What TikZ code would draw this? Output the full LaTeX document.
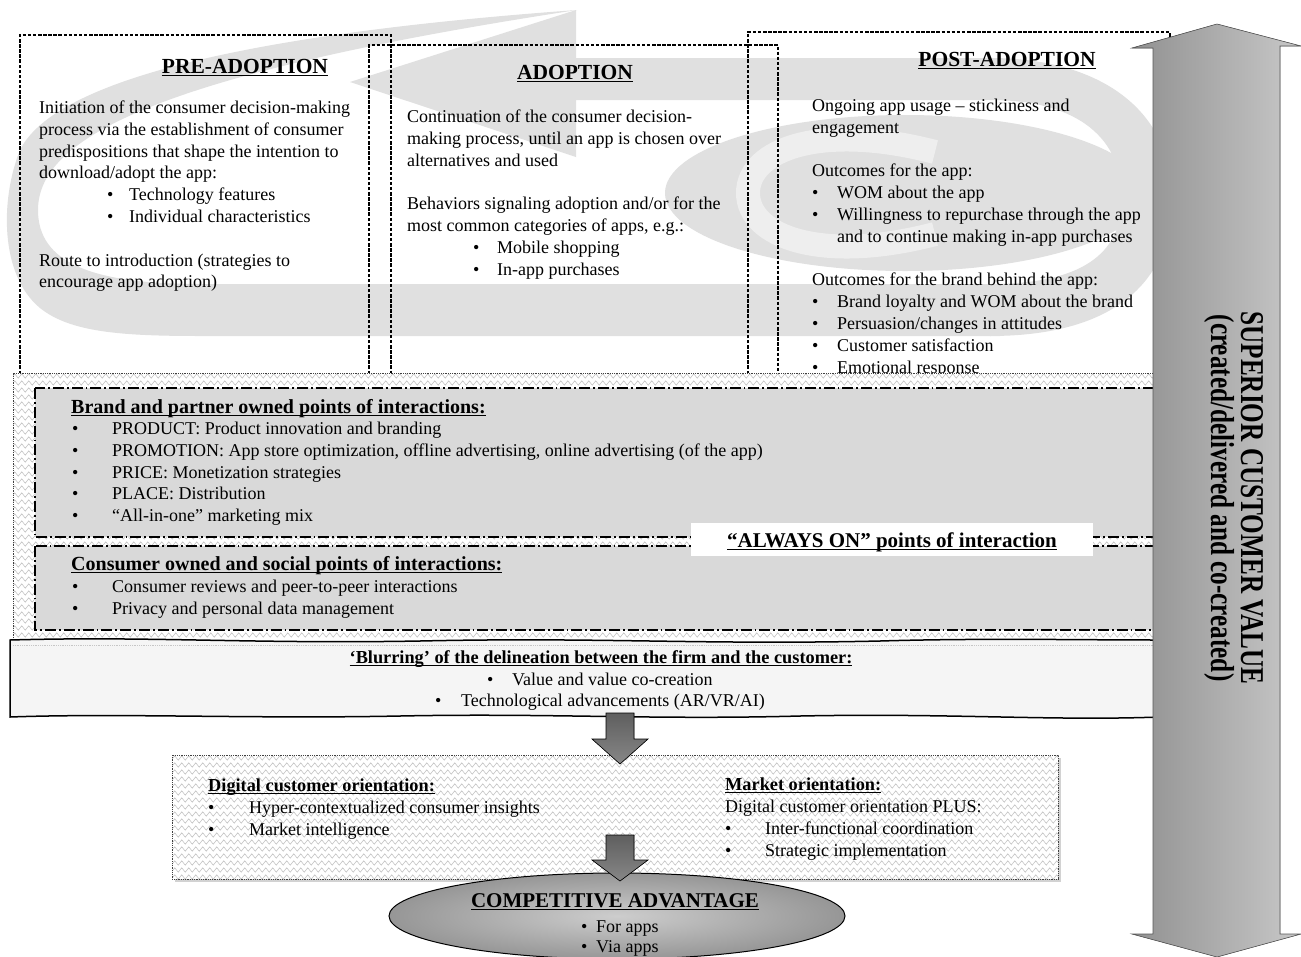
\documentclass[tikz,border=0pt]{standalone}
\usepackage{fontspec}
\setmainfont{Liberation Serif}
\usetikzlibrary{shapes.geometric,decorations.pathmorphing}
\definecolor{swirl}{RGB}{224,224,224}
\definecolor{swirllight}{RGB}{238,238,238}
\definecolor{boxgray}{RGB}{217,217,217}
\definecolor{zzc}{RGB}{188,188,188}
\definecolor{blurfill}{RGB}{245,245,245}
\definecolor{arrL}{RGB}{145,145,145}
\definecolor{arrR}{RGB}{200,200,200}
\newsavebox\ulb
\newcommand\ulx[1]{\sbox\ulb{#1}\rlap{\rule[-2.8pt]{\wd\ulb}{1.3pt}}\usebox\ulb}
\newcommand\bul[1]{\makebox[#1][l]{\textbullet}}
\begin{document}
\begin{tikzpicture}[x=1pt,y=-1pt,
  body/.style={inner sep=0pt, align=left, anchor=north west, font=\fontsize{18}{21.8}\selectfont},
  txtline/.style={inner sep=0pt, anchor=base west, font=\fontsize{18}{21.8}\selectfont},
  titletxt/.style={inner sep=0pt, anchor=base, font=\bfseries\fontsize{21.5}{26}\selectfont},
  headtxt/.style={inner sep=0pt, anchor=base west, font=\bfseries\fontsize{20}{24}\selectfont},
  sheadtxt/.style={inner sep=0pt, anchor=base west, font=\bfseries\fontsize{18.3}{22}\selectfont},
  dbox/.style={draw=black, line width=1.1pt, dash pattern=on 3.5pt off 1.6pt},
  ddbox/.style={draw=black, fill=boxgray, line width=1.4pt, dash pattern=on 11pt off 3pt on 1.8pt off 3pt},
  zz/.style={draw=zzc, line width=0.5pt, decorate, decoration={zigzag, segment length=7pt, amplitude=2.2pt}},
  dotb/.style={draw=black!75, line width=0.8pt, dash pattern=on 0.8pt off 1pt},
  darrow/.style={draw=black, line width=0.6pt, top color={rgb,255:red,95;green,95;blue,95}, bottom color={rgb,255:red,135;green,135;blue,135}},
  rottxt/.style={rotate=-90, anchor=base, inner sep=0pt, font=\bfseries\fontsize{25.2}{30}\selectfont}
]
\useasboundingbox (0,0) rectangle (1301,956);
\fill[white] (0,0) rectangle (1301,956);

% ---- background swirl ----
\fill[swirl] (577,10) .. controls (300,30) and (60,70) .. (20,150)
  .. controls (0,200) and (0,275) .. (40,308)
  .. controls (70,332) and (120,336) .. (200,336) -- (1000,336) -- (1000,284) -- (200,284)
  .. controls (90,284) and (38,262) .. (38,210)
  .. controls (38,140) and (150,75) .. (577,10) -- cycle;
\fill[swirl] (990,336) .. controls (1110,336) and (1172,285) .. (1172,198)
  .. controls (1172,110) and (1100,58) .. (990,58) -- (560,58) -- (560,100) -- (990,100)
  .. controls (1080,100) and (1122,140) .. (1122,198)
  .. controls (1122,255) and (1080,284) .. (990,284) -- cycle;
\fill[swirl] (350,82) -- (576,10) -- (576,157) -- cycle;
\fill[swirl] (905,193) ellipse [x radius=240pt, y radius=78pt];
\draw[swirllight, line width=24pt] (935,152) .. controls (820,122) and (748,150) .. (748,193)
  .. controls (748,236) and (820,264) .. (935,234);

% ---- stage boxes ----
\draw[dbox] (20,374) -- (20,35) -- (391,35) -- (391,374);
\draw[dbox] (369,374) -- (369,45) -- (778,45) -- (778,374);
\draw[dbox] (748,374) -- (748,32) -- (1170,32) -- (1170,374);

% ---- titles and texts of stages ----
\node[titletxt] (tpre) at (245,73) {\ulx{PRE-ADOPTION}};
\node[titletxt] (tad) at (575,79) {\ulx{ADOPTION}};
\node[titletxt] (tpost) at (1007,66) {\ulx{POST-ADOPTION}};

\node[body] (bpre) at (39,98) {\strut Initiation of the consumer decision-making\\
process via the establishment of consumer\\
predispositions that shape the intention to\\
download/adopt the app:\\
\hspace*{68pt}\bul{22pt}Technology features\\
\hspace*{68pt}\bul{22pt}Individual characteristics\\[21.8pt]
Route to introduction (strategies to\\
encourage app adoption)};

\node[body] (bad) at (407,107) {\strut Continuation of the consumer decision-\\
making process, until an app is chosen over\\
alternatives and used\\[21.8pt]
Behaviors signaling adoption and/or for the\\
most common categories of apps, e.g.:\\
\hspace*{66pt}\bul{24pt}Mobile shopping\\
\hspace*{66pt}\bul{24pt}In-app purchases};

\node[body] (bpost) at (812,96) {\strut Ongoing app usage – stickiness and\\
engagement\\[21.8pt]
Outcomes for the app:\\
\bul{25pt}WOM about the app\\
\bul{25pt}Willingness to repurchase through the app\\
\hspace*{25pt}and to continue making in-app purchases\\[21.8pt]
Outcomes for the brand behind the app:\\
\bul{25pt}Brand loyalty and WOM about the brand\\
\bul{25pt}Persuasion/changes in attitudes\\
\bul{25pt}Customer satisfaction\\
\bul{25pt}Emotional response};

% ---- always-on band ----
\fill[white] (13,373) rectangle (1153,638);
\begin{scope}
  \clip (13,373) rectangle (1153,638);
  \foreach \yy in {376,383,...,640} \draw[zz] (6,\yy) -- (1160,\yy);
\end{scope}
\draw[dotb] (13,638) -- (13,373) -- (1153,373);
\draw[ddbox] (35,388) rectangle (1160,537);
\draw[ddbox] (35,546) rectangle (1160,630);

\node[headtxt] (ha) at (71,413) {\ulx{Brand and partner owned points of interactions:}};
\node[body] (la) at (72,419) {\strut\bul{40pt}PRODUCT: Product innovation and branding\\
\bul{40pt}PROMOTION: App store optimization, offline advertising, online advertising (of the app)\\
\bul{40pt}PRICE: Monetization strategies\\
\bul{40pt}PLACE: Distribution\\
\bul{40pt}“All-in-one” marketing mix};

\node[headtxt] (hb) at (71,570) {\ulx{Consumer owned and social points of interactions:}};
\node[body] (lb) at (72,577) {\strut\bul{40pt}Consumer reviews and peer-to-peer interactions\\
\bul{40pt}Privacy and personal data management};

\node[fill=white, minimum width=402pt, minimum height=33pt, inner sep=0pt] (aonbox) at (892,539.5) {};
\node[titletxt, font=\bfseries\fontsize{21}{25}\selectfont] (aon) at (892,547) {\ulx{“ALWAYS ON” points of interaction}};

% ---- blurring box ----
\filldraw[fill=blurfill, draw=black, line width=1.5pt]
  (10,640) .. controls (150,636) and (250,644) .. (420,641)
  .. controls (600,637) and (700,645) .. (880,641)
  .. controls (980,638) and (1080,640) .. (1160,640) -- (1160,717)
  .. controls (1050,721) and (950,713) .. (800,716)
  .. controls (650,720) and (550,713) .. (400,716)
  .. controls (250,719) and (120,713) .. (10,717) -- cycle;
\draw[gray!45, line width=0.8pt, dash pattern=on 0.8pt off 1pt] (13,645) -- (1153,645);
\node[sheadtxt, anchor=base] (hblur) at (601,663) {\ulx{‘Blurring’ of the delineation between the firm and the customer:}};
\node[txtline] (bl1) at (487,685.5) {\bul{25pt}Value and value co-creation};
\node[txtline] (bl2) at (435,706.5) {\bul{26pt}Technological advancements (AR/VR/AI)};

% ---- orientation box ----
\fill[gray!35] (175,758) rectangle (1061,882);
\fill[white] (172,755) rectangle (1058,879);
\begin{scope}
  \clip (172,755) rectangle (1058,879);
  \foreach \yy in {758,765,...,880} \draw[zz] (166,\yy) -- (1064,\yy);
\end{scope}
\draw[dotb] (172,755) rectangle (1058,879);

% ---- down arrow 1 ----
\filldraw[darrow] (606,713) -- (634,713) -- (634,739) -- (648,739) -- (620,764) -- (592,739) -- (606,739) -- cycle;

\node[sheadtxt] (hdig) at (208,791) {\ulx{Digital customer orientation:}};
\node[body] (ldig) at (208,798) {\strut\bul{41pt}Hyper-contextualized consumer insights\\
\bul{41pt}Market intelligence};
\node[sheadtxt] (hmkt) at (725,790) {\ulx{Market orientation:}};
\node[body] (lmkt) at (725,797) {\strut Digital customer orientation PLUS:\\
\bul{40pt}Inter-functional coordination\\
\bul{40pt}Strategic implementation};

% ---- competitive advantage ----
\node[ellipse, draw=black, line width=1pt, minimum width=456pt, minimum height=86pt,
  inner color={rgb,255:red,205;green,205;blue,205}, outer color={rgb,255:red,150;green,150;blue,150}] (ca) at (617,916) {};
\filldraw[darrow] (606,835) -- (634,835) -- (634,860) -- (648,860) -- (620,881) -- (592,860) -- (606,860) -- cycle;
\node[titletxt, font=\bfseries\fontsize{21}{25}\selectfont] (tca) at (615,907) {\ulx{COMPETITIVE ADVANTAGE}};
\node[txtline] (ca1) at (581,932) {\bul{15pt}For apps};
\node[txtline] (ca2) at (581,952) {\bul{15pt}Via apps};

% ---- superior customer value arrow ----
\filldraw[draw=gray!70!black, line width=0.6pt, left color=arrL, right color=arrR]
  (1217,24) -- (1301,46) -- (1280,46) -- (1280,934) -- (1301,934) -- (1217,957)
  -- (1132,934) -- (1153,934) -- (1153,48) -- (1132,48) -- cycle;
\node[rottxt] (scv1) at (1241,498) {\scalebox{1}[1.32]{SUPERIOR CUSTOMER VALUE}};
\node[rottxt] (scv2) at (1211,498) {\scalebox{1}[1.32]{(created/delivered and co-created)}};
\end{tikzpicture}
\end{document}
